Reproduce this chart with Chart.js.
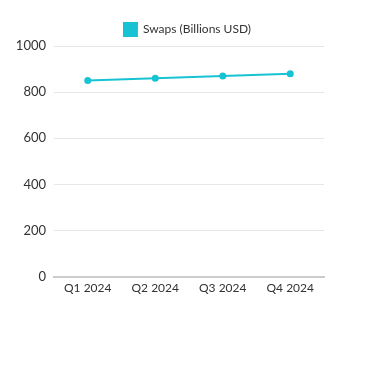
<!DOCTYPE html>
<html><head><meta charset="utf-8">
<script src="https://cdn.jsdelivr.net/npm/chart.js@4"></script>
<style>html,body{margin:0;padding:0;background:#fff}#wrap{width:375px;height:299px;position:relative}</style>
</head><body>
<div id="wrap"><canvas id="c"></canvas></div>
<script>
const categories = ["Q1 2024", "Q2 2024", "Q3 2024", "Q4 2024"];
const swaps = [850, 860, 870, 880];
const seriesLabel = "Swaps (Billions USD)";
const color = "#17c3d3";
Chart.defaults.font.family = "Lato, 'Open Sans', sans-serif";
Chart.defaults.color = "#333";
new Chart(document.getElementById('c'), {
  type: 'line',
  data: { labels: categories, datasets: [{ label: seriesLabel, data: swaps, borderColor: color, backgroundColor: color, borderWidth: 2, pointRadius: 2.5, pointBackgroundColor: color, tension: 0, yAxisID: 'y' }] },
  options: {
    responsive: true, maintainAspectRatio: false, animation: false,
    layout: { padding: { left: 0, right: 0, top: 13, bottom: 0 } },
    plugins: { legend: { labels: { boxWidth: 13, boxHeight: 13, font: { size: 12 } } }, tooltip: { enabled: false } },
    scales: {
      x: { offset: true, grid: { display: false, drawTicks: false }, border: { color: '#ccc', width: 2 }, ticks: { font: { size: 12 }, padding: 4 } },
      y: { min: 0, max: 1000, afterFit: s => { s.width = 54; },
           ticks: { stepSize: 200, font: { size: 13 }, padding: 8, callback: v => String(v) },
           grid: { color: '#e6e6e6', drawTicks: false }, border: { display: false } },
      r: { position: 'right', min: 0, max: 1000, afterFit: s => { s.width = 51; },
           ticks: { display: false }, grid: { display: false, drawTicks: false }, border: { display: false } }
    }
  }
});
</script>
</body></html>
